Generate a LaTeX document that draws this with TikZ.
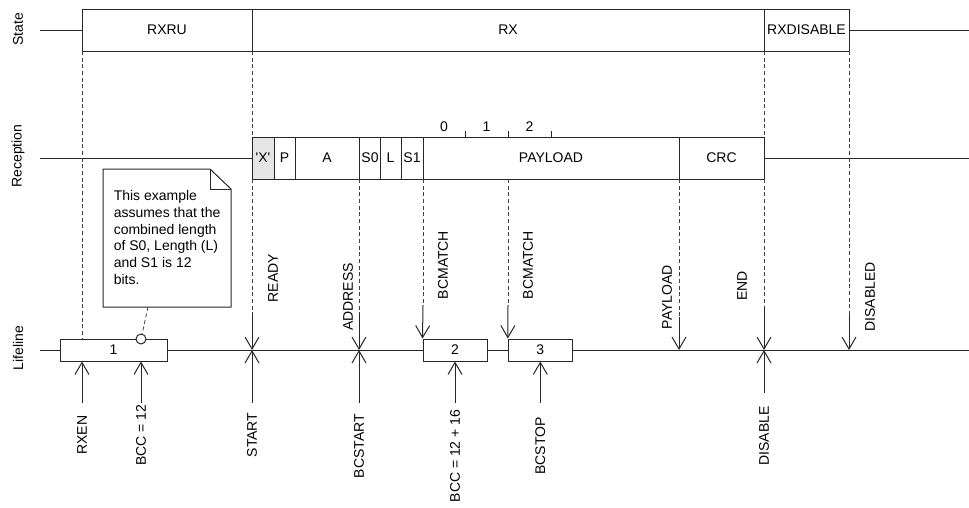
\documentclass[tikz,border=0pt]{standalone}
\usepackage{fontspec}
\setmainfont{Liberation Sans}
\usetikzlibrary{arrows.meta}

\begin{document}
\begin{tikzpicture}[x=0.75pt,y=0.75pt,yscale=-1,xscale=1,
  lbl/.style={font=\fontsize{10.5}{12.6}\selectfont, inner sep=0.75pt},
  vlbl/.style={lbl, rotate=90},
  frame/.style={draw=black!85, line width=0.75pt},
  guide/.style={draw=black!75, line width=0.6pt, dash pattern=on 3pt off 2pt},
  sig/.style={draw=black!85, line width=0.75pt, -{Straight Barb[length=9pt,width=10.5pt]}},
  cntbox/.style={frame, fill=white, lbl, minimum height=16.5pt, inner sep=0pt}]
\useasboundingbox (0,0) rectangle (969,507);

% Row labels
\node[vlbl] (stateLbl) at (18,29) {State};
\node[vlbl] (recLbl) at (18,156) {Reception};
\node[vlbl] (lifeLbl) at (18,348) {Lifeline};

%Shape: State row
\coordinate (stateL) at (40,30);
\coordinate (stateR) at (969,30);
\draw[frame] (stateL) -- (82,30);
\draw[frame] (849,30) -- (stateR);
\draw[frame] (82,9) rectangle (252,51);
\draw[frame] (252,9) rectangle (764,51);
\draw[frame] (764,9) rectangle (849,51);
% Text Node
\node[lbl] (rxru) at (167,30) {RXRU};
\node[lbl] (rx) at (508,30) {RX};
\node[lbl] (rxdis) at (806.5,30) {RXDISABLE};

%Shape: Reception row
\coordinate (recL) at (40,158);
\coordinate (recR) at (969,158);
\draw[frame] (recL) -- (252,158);
\draw[frame] (764,158) -- (recR);
\fill[black!10] (252,137) rectangle (274,179);
\draw[frame] (252,137) rectangle (764,179);
\draw[frame] (274,137) -- (274,179);
\draw[frame] (295,137) -- (295,179);
\draw[frame] (359,137) -- (359,179);
\draw[frame] (380,137) -- (380,179);
\draw[frame] (401,137) -- (401,179);
\draw[frame] (423,137) -- (423,179);
\draw[frame] (679,137) -- (679,179);
% Text Node
\node[lbl] (fx) at (263,158) {\textquotesingle X\textquotesingle};
\node[lbl] (fp) at (284.5,158) {P};
\node[lbl] (fa) at (327,158) {A};
\node[lbl] (fs0) at (370,158) {S0};
\node[lbl] (fl) at (390.5,158) {L};
\node[lbl] (fs1) at (412,158) {S1};
\node[lbl] (fpay) at (551,158) {PAYLOAD};
\node[lbl] (fcrc) at (721.5,158) {CRC};

%Straight Lines: byte ticks
\draw[frame] (465,131) -- (465,137);
\draw[frame] (508,131) -- (508,137);
\draw[frame] (551,131) -- (551,137);
\node[lbl] (b0) at (444,127) {0};
\node[lbl] (b1) at (486.5,127) {1};
\node[lbl] (b2) at (529.5,127) {2};

%Straight Lines: lifeline
\coordinate (lifeL) at (40,350);
\coordinate (lifeR) at (969,350);
\draw[frame] (lifeL) -- (lifeR);
\node[cntbox, minimum width=80.25pt] (cnt1) at (113.5,350) {1};
\node[cntbox, minimum width=48pt] (cnt2) at (455,350) {2};
\node[cntbox, minimum width=48pt] (cnt3) at (540.3,350) {3};

%Dashed guides
\draw[guide] (82,51) -- (82,339);
\draw[guide] (252,51) -- (252,137);
\draw[guide] (764,51) -- (764,137);

% Events
\coordinate (readyT) at (252,315);
\coordinate (addrT) at (359,313);
\coordinate (bcm1T) at (423,305);
\coordinate (bcm2T) at (508,305);
\coordinate (payT) at (679,317);
\coordinate (endT) at (764,307);
\coordinate (disdT) at (849,315);
\draw[guide] (252,179) -- (readyT);
\draw[guide] (359,179) -- (addrT);
\draw[guide] (423,179) -- (bcm1T);
\draw[guide] (508,179) -- (bcm2T);
\draw[guide] (679,179) -- (payT);
\draw[guide] (764,179) -- (endT);
\draw[guide] (849,51) -- (disdT);
\draw[sig] (readyT) -- (readyT |- lifeL);
\draw[sig] (addrT) -- (addrT |- lifeL);
\draw[sig] (bcm1T) -- (cnt2.north west);
\draw[sig] (bcm2T) -- (cnt3.north west);
\draw[sig] (payT) -- (payT |- lifeL);
\draw[sig] (endT) -- (endT |- lifeL);
\draw[sig] (disdT) -- (disdT |- lifeL);
\node[vlbl] (ready) at (273,278) {READY};
\node[vlbl] (address) at (348,297) {ADDRESS};
\node[vlbl] (bcmatchA) at (443,265) {BCMATCH};
\node[vlbl] (bcmatchB) at (528,265) {BCMATCH};
\node[vlbl] (payload) at (667,297) {PAYLOAD};
\node[vlbl] (endEv) at (742,286) {END};
\node[vlbl] (disabled) at (870,297) {DISABLED};

% Tasks
\coordinate (rxenT) at (82,403);
\coordinate (bcc1T) at (141,403);
\coordinate (startT) at (252,403);
\coordinate (bcstartT) at (359,403);
\coordinate (bcc2T) at (455,403);
\coordinate (bcstopT) at (540.3,403);
\coordinate (disT) at (764,393);
\draw[sig] (rxenT) -- (rxenT |- cnt1.south);
\draw[sig] (bcc1T) -- (bcc1T |- cnt1.south);
\draw[sig] (startT) -- (startT |- lifeL);
\draw[sig] (bcstartT) -- (bcstartT |- lifeL);
\draw[sig] (bcc2T) -- (cnt2.south);
\draw[sig] (bcstopT) -- (cnt3.south);
\draw[sig] (disT) -- (disT |- lifeL);
\node[vlbl] (rxen) at (82,435) {RXEN};
\node[vlbl] (bcc1) at (141,435) {BCC = 12};
\node[vlbl] (start) at (252,435) {START};
\node[vlbl] (bcstart) at (359,446) {BCSTART};
\node[vlbl] (bcc2) at (455,456) {BCC = 12 + 16};
\node[vlbl] (bcstop) at (540.3,446) {BCSTOP};
\node[vlbl] (disable) at (764,436) {DISABLE};

%Shape: note
\draw[frame, fill=white] (103,169) -- (210,169) -- (231,189) -- (231,307) -- (103,307) -- cycle;
\draw[frame] (210,169) -- (210,189) -- (231,189);
\node[lbl, anchor=north west, align=left] (note) at (112.5,189) {This example\\assumes that the\\combined length\\of S0, Length (L)\\and S1 is 12\\bits.};
\coordinate (noteFoot) at (148,307);
\node[circle, frame, fill=white, minimum size=7.5pt, inner sep=0pt] (notePin) at (141,339) {};
\draw[guide] (noteFoot) -- (notePin);

\end{tikzpicture}
\end{document}
